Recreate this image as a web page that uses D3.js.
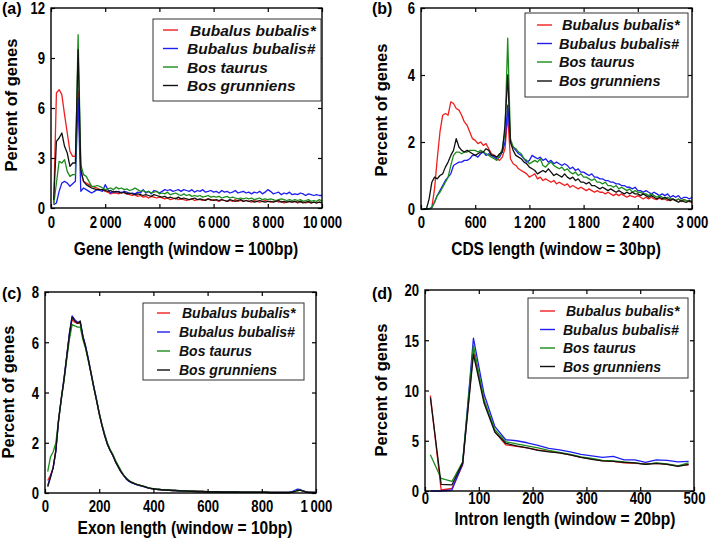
<!DOCTYPE html>
<html><head><meta charset="utf-8">
<script src="https://cdn.jsdelivr.net/npm/d3@7"></script>
<style>
body{margin:0;background:#fff;}
svg{display:block;}
</style></head><body>
<svg id="chart" width="709" height="544"></svg>
<script>
const seriesNames = ["Bubalus bubalis*", "Bubalus bubalis#", "Bos taurus", "Bos grunniens"];
const seriesColors = ["#f01e1e", "#1e1ef0", "#1b8c1b", "#111111"];

// ---------- (a) Gene length, window = 100bp ----------
const geneX = d3.range(100, 10001, 100);
const geneRed = [
 0.3,6.9,7.1,6.8,5.6,4.5,3.4,3.1,3.1,7.0,
 2.2,1.6,1.5,1.4,1.3,1.25,1.2,1.1,1.1,1.0,
 0.95,0.85,0.9,0.9,0.85,0.95,0.9,0.85,0.8,0.75,
 0.8,0.7,0.75,0.65,0.7,0.6,0.7,0.65,0.6,0.65,
 0.6,0.55,0.6,0.5,0.55,0.6,0.5,0.55,0.5,0.45,
 0.5,0.55,0.45,0.5,0.5,0.45,0.5,0.55,0.45,0.5,
 0.45,0.4,0.5,0.45,0.4,0.45,0.4,0.5,0.4,0.45,
 0.4,0.45,0.4,0.35,0.45,0.4,0.35,0.4,0.45,0.4,
 0.35,0.4,0.45,0.35,0.4,0.3,0.35,0.4,0.35,0.4,
 0.3,0.35,0.4,0.3,0.35,0.3,0.35,0.3,0.35,0.3];
const geneBlue = [
 0.2,0.3,1.0,1.5,1.6,1.5,1.3,1.45,1.6,6.6,
 1.0,1.2,1.1,1.0,0.9,1.0,1.1,1.05,1.0,1.4,
 1.1,0.9,1.0,0.95,1.0,0.9,1.0,0.95,0.85,0.9,
 0.85,0.95,0.9,1.1,0.9,1.0,0.85,1.05,1.0,0.9,
 1.0,1.1,1.05,1.1,1.0,1.05,1.1,1.0,1.1,1.05,
 1.0,1.1,0.95,1.05,1.0,1.1,0.95,1.0,1.05,0.95,
 1.0,0.9,1.05,0.95,1.0,0.9,0.95,1.05,0.9,0.95,
 1.0,0.9,0.95,0.85,0.95,0.9,1.0,0.85,0.95,1.1,
 1.0,0.85,0.9,0.95,0.8,0.9,0.85,0.95,0.8,0.85,
 0.8,0.9,0.85,0.75,0.85,0.8,0.75,0.8,0.75,0.75];
const geneGreen = [
 0.2,1.5,2.8,2.7,2.9,2.2,1.9,2.0,2.0,10.4,
 2.6,2.0,1.9,1.6,1.3,1.3,1.35,1.3,1.2,1.1,
 1.15,1.2,1.1,1.25,1.15,1.2,1.1,1.15,1.05,1.1,
 1.2,1.1,1.0,1.05,0.95,1.0,0.9,0.95,1.0,0.85,
 0.9,0.85,0.95,0.8,0.85,0.9,0.8,0.75,0.85,0.75,
 0.8,0.7,0.75,0.7,0.75,0.65,0.7,0.75,0.65,0.7,
 0.65,0.7,0.6,0.65,0.7,0.6,0.65,0.6,0.55,0.6,
 0.55,0.6,0.55,0.6,0.5,0.55,0.6,0.5,0.55,0.5,
 0.55,0.5,0.45,0.5,0.55,0.5,0.45,0.5,0.45,0.5,
 0.45,0.5,0.4,0.45,0.5,0.4,0.45,0.4,0.5,0.4];
const geneBlack = [
 0.5,4.0,4.2,4.5,3.7,3.3,2.5,2.7,2.7,9.5,
 2.3,1.6,1.4,1.3,1.2,1.15,1.1,1.1,1.1,1.05,
 1.0,1.05,0.95,1.0,0.95,0.9,0.95,0.85,0.9,0.85,
 0.8,0.85,0.8,0.75,0.8,0.75,0.7,0.8,0.75,0.7,
 0.65,0.7,0.6,0.65,0.6,0.55,0.65,0.55,0.6,0.55,
 0.5,0.55,0.6,0.5,0.55,0.5,0.45,0.55,0.5,0.45,
 0.5,0.45,0.5,0.45,0.4,0.5,0.45,0.4,0.45,0.5,
 0.4,0.45,0.4,0.45,0.35,0.4,0.45,0.4,0.35,0.4,
 0.4,0.35,0.4,0.45,0.35,0.4,0.35,0.4,0.35,0.4,
 0.35,0.4,0.3,0.35,0.4,0.3,0.35,0.3,0.35,0.3];
const geneXTicks = [0, 2000, 4000, 6000, 8000, 10000];
const geneYTicks = [0, 3, 6, 9, 12];

// ---------- (b) CDS length, window = 30bp ----------
const cdsX = d3.range(30, 3001, 30);
const cdsRed = [
 0,0,0,0.05,0.6,1.5,2.3,2.8,2.85,2.8,
 3.2,3.15,3.0,2.95,2.8,2.6,2.5,2.3,2.1,2.05,
 1.95,2.0,1.9,1.95,1.8,1.65,1.6,1.5,1.45,1.55,
 1.8,2.8,1.5,1.35,1.3,1.2,1.15,1.1,1.05,0.95,
 1.0,1.05,0.9,0.95,0.85,0.9,0.85,0.8,0.85,0.75,
 0.8,0.75,0.7,0.75,0.65,0.7,0.65,0.6,0.65,0.6,
 0.55,0.6,0.55,0.5,0.55,0.5,0.5,0.45,0.5,0.45,
 0.4,0.45,0.4,0.45,0.4,0.35,0.4,0.38,0.35,0.4,
 0.35,0.3,0.35,0.3,0.35,0.3,0.28,0.32,0.28,0.3,
 0.25,0.3,0.28,0.25,0.3,0.22,0.28,0.25,0.22,0.2];
const cdsBlue = [
 0,0,0,0.05,0.2,0.4,0.55,0.7,0.85,0.95,
 1.05,1.3,1.35,1.4,1.4,1.45,1.45,1.5,1.6,1.6,
 1.55,1.65,1.7,1.6,1.65,1.6,1.55,1.5,1.55,1.7,
 2.0,3.1,2.0,1.85,1.75,1.65,1.6,1.5,1.4,1.45,
 1.6,1.55,1.5,1.55,1.45,1.5,1.4,1.45,1.35,1.4,
 1.35,1.3,1.35,1.3,1.2,1.25,1.15,1.2,1.1,1.1,
 1.05,1.0,1.05,0.95,0.95,0.9,0.9,0.85,0.85,0.8,
 0.8,0.75,0.75,0.7,0.7,0.65,0.65,0.6,0.65,0.55,
 0.55,0.5,0.55,0.5,0.45,0.5,0.45,0.4,0.45,0.4,
 0.45,0.35,0.4,0.35,0.4,0.3,0.35,0.35,0.3,0.35];
const cdsGreen = [
 0,0,0,0.05,0.2,0.4,0.5,0.65,0.8,0.95,
 1.3,1.6,1.7,1.7,1.65,1.7,1.7,1.75,1.75,1.75,
 1.7,1.75,1.7,1.65,1.6,1.55,1.5,1.45,1.6,1.8,
 2.3,5.1,2.1,1.85,1.8,1.7,1.65,1.5,1.45,1.35,
 1.4,1.45,1.4,1.5,1.3,1.25,1.35,1.4,1.3,1.25,
 1.2,1.25,1.15,1.2,1.1,1.05,1.1,1.0,1.05,0.95,
 0.95,0.9,0.85,0.9,0.8,0.8,0.75,0.8,0.7,0.7,
 0.65,0.7,0.6,0.65,0.6,0.55,0.6,0.5,0.55,0.5,
 0.5,0.45,0.45,0.4,0.45,0.4,0.35,0.4,0.35,0.3,
 0.35,0.3,0.3,0.25,0.3,0.25,0.28,0.25,0.22,0.25];
const cdsBlack = [
 0,0,0.3,0.8,0.95,0.9,1.0,1.05,1.25,1.4,
 1.6,1.75,2.1,1.85,1.75,1.7,1.75,1.7,1.65,1.6,
 1.65,1.7,1.7,1.8,1.75,1.6,1.6,1.55,1.65,1.7,
 2.5,4.0,2.0,1.75,1.6,1.55,1.5,1.4,1.35,1.25,
 1.2,1.15,1.05,1.1,1.15,1.1,1.2,1.1,1.0,1.05,
 1.0,0.95,1.05,0.95,0.9,0.95,0.85,0.9,0.8,0.8,
 0.75,0.8,0.7,0.7,0.65,0.6,0.65,0.6,0.55,0.6,
 0.55,0.5,0.55,0.5,0.45,0.5,0.45,0.5,0.45,0.45,
 0.4,0.45,0.4,0.35,0.4,0.35,0.3,0.35,0.3,0.35,
 0.3,0.25,0.3,0.25,0.2,0.25,0.22,0.2,0.25,0.2];
const cdsXTicks = [0, 600, 1200, 1800, 2400, 3000];
const cdsYTicks = [0, 2, 4, 6];

// ---------- (c) Exon length, window = 10bp ----------
const exonX = d3.range(10, 1001, 10);
const exonRed = [
 0.5,0.7,1.0,1.7,2.9,3.75,4.5,5.4,6.3,6.9,
 6.8,6.75,6.75,6.2,5.8,5.3,4.75,4.2,3.7,3.15,
 2.7,2.3,1.95,1.7,1.5,1.25,1.05,0.85,0.7,0.57,
 0.48,0.42,0.37,0.33,0.3,0.27,0.24,0.2,0.18,0.17,
 0.15,0.14,0.13,0.12,0.12,0.11,0.1,0.1,0.09,0.09,
 0.08,0.08,0.07,0.07,0.07,0.06,0.06,0.06,0.06,0.05,
 0.05,0.05,0.05,0.05,0.04,0.04,0.04,0.04,0.04,0.04,
 0.04,0.03,0.03,0.03,0.03,0.03,0.03,0.03,0.03,0.03,
 0.03,0.03,0.02,0.02,0.02,0.02,0.02,0.02,0.02,0.02,
 0.03,0.05,0.1,0.12,0.08,0.05,0.03,0.02,0.02,0.02];
const exonBlue = [
 0.3,0.65,1.0,1.65,2.85,3.75,4.55,5.45,6.35,7.05,
 6.9,6.8,6.8,6.25,5.85,5.35,4.8,4.25,3.75,3.2,
 2.7,2.3,1.95,1.7,1.5,1.25,1.05,0.85,0.7,0.55,
 0.46,0.4,0.36,0.32,0.29,0.26,0.23,0.2,0.18,0.16,
 0.15,0.14,0.13,0.12,0.11,0.11,0.1,0.1,0.09,0.08,
 0.08,0.08,0.07,0.07,0.06,0.06,0.06,0.06,0.05,0.05,
 0.05,0.05,0.05,0.04,0.04,0.04,0.04,0.04,0.04,0.04,
 0.03,0.03,0.03,0.03,0.03,0.03,0.03,0.03,0.03,0.03,
 0.03,0.02,0.02,0.02,0.02,0.02,0.02,0.02,0.02,0.03,
 0.05,0.1,0.15,0.14,0.1,0.06,0.04,0.03,0.02,0.02];
const exonGreen = [
 0.85,1.43,1.63,2.0,2.9,3.7,4.45,5.3,6.1,6.7,
 6.65,6.6,6.6,6.1,5.75,5.25,4.75,4.2,3.7,3.2,
 2.75,2.35,2.0,1.75,1.55,1.3,1.1,0.9,0.72,0.6,
 0.5,0.43,0.38,0.34,0.31,0.28,0.25,0.21,0.19,0.17,
 0.16,0.15,0.13,0.12,0.12,0.11,0.11,0.1,0.1,0.09,
 0.09,0.08,0.08,0.07,0.07,0.07,0.06,0.06,0.06,0.05,
 0.05,0.05,0.05,0.05,0.04,0.04,0.04,0.04,0.04,0.04,
 0.04,0.03,0.03,0.03,0.03,0.03,0.03,0.03,0.03,0.03,
 0.03,0.03,0.02,0.02,0.02,0.02,0.02,0.02,0.02,0.02,
 0.03,0.06,0.1,0.11,0.08,0.05,0.03,0.02,0.02,0.02];
const exonBlack = [
 0.25,0.6,1.0,1.7,2.9,3.75,4.5,5.4,6.3,7.0,
 6.85,6.75,6.85,6.2,5.8,5.3,4.75,4.2,3.7,3.15,
 2.7,2.3,1.95,1.7,1.5,1.25,1.05,0.85,0.7,0.58,
 0.48,0.42,0.37,0.33,0.3,0.27,0.24,0.2,0.18,0.17,
 0.15,0.14,0.13,0.12,0.12,0.11,0.1,0.1,0.09,0.09,
 0.08,0.08,0.07,0.07,0.07,0.06,0.06,0.06,0.05,0.05,
 0.05,0.05,0.05,0.05,0.04,0.04,0.04,0.04,0.04,0.04,
 0.04,0.03,0.03,0.03,0.03,0.03,0.03,0.03,0.03,0.03,
 0.03,0.03,0.02,0.02,0.02,0.02,0.02,0.02,0.02,0.02,
 0.03,0.05,0.09,0.11,0.08,0.05,0.03,0.02,0.02,0.02];
const exonXTicks = [0, 200, 400, 600, 800, 1000];
const exonYTicks = [0, 2, 4, 6, 8];

// ---------- (d) Intron length, window = 20bp ----------
const intronX = d3.range(10, 491, 20);
const intronRed   = [9.5,0.1,0.25,2.6,14.0,9.0,5.9,4.6,4.45,4.3,4.1,3.95,3.8,3.6,3.35,3.2,3.0,2.95,2.8,2.75,2.7,2.75,2.65,2.5,2.6];
const intronBlue  = [0,0,0.1,2.7,15.2,9.6,6.4,5.1,5.0,4.8,4.55,4.25,4.1,3.9,3.65,3.5,3.35,3.45,3.1,3.1,2.85,3.1,3.05,2.9,2.95];
const intronGreen = [3.6,1.25,0.95,2.9,14.5,9.0,6.1,4.9,4.7,4.5,4.3,4.05,3.85,3.65,3.4,3.25,3.05,3.0,2.9,2.8,2.65,2.8,2.7,2.5,2.8];
const intronBlack = [9.3,0.65,0.6,2.8,13.6,8.7,5.85,4.75,4.5,4.3,4.05,3.9,3.8,3.6,3.35,3.15,3.0,2.95,2.85,2.8,2.65,2.75,2.65,2.45,2.65];
const intronXTicks = [0, 100, 200, 300, 400, 500];
const intronYTicks = [0, 5, 10, 15, 20];

// ---------- panel definitions ----------
const panels = [
 { tag:"(a)", xs:geneX, ys:[geneRed,geneBlue,geneGreen,geneBlack], xDomain:[0,10000], yDomain:[0,12],
   xTicks:geneXTicks, yTicks:geneYTicks, xTitle:"Gene length (window = 100bp)",
   box:{l:51,r:322,t:8,b:208}, tagPos:[2,14], yTitle:[17,105], xTitle_:[186,255], xTickDy:20,
   leg:{l:153,r:321,t:19,b:101,lx:[163,178],tx:187,rows:[30,48.5,67,85.5],fs:15.5} },
 { tag:"(b)", xs:cdsX, ys:[cdsRed,cdsBlue,cdsGreen,cdsBlack], xDomain:[0,3000], yDomain:[0,6],
   xTicks:cdsXTicks, yTicks:cdsYTicks, xTitle:"CDS length (window = 30bp)",
   box:{l:421,r:692,t:8,b:209}, tagPos:[372,14], yTitle:[387,110], xTitle_:[556,255], xTickDy:19,
   leg:{l:525,r:688,t:13,b:97,lx:[537,552],tx:559,rows:[25,43.5,62,81],fs:14.5} },
 { tag:"(c)", xs:exonX, ys:[exonRed,exonBlue,exonGreen,exonBlack], xDomain:[0,1000], yDomain:[0,8],
   xTicks:exonXTicks, yTicks:exonYTicks, xTitle:"Exon length (window = 10bp)",
   box:{l:45,r:316,t:292,b:493}, tagPos:[2,299], yTitle:[14,392], xTitle_:[185,534], xTickDy:19,
   leg:{l:143,r:304,t:303,b:380,lx:[157,170],tx:179,rows:[313,332,351,370],fs:14} },
 { tag:"(d)", xs:intronX, ys:[intronRed,intronBlue,intronGreen,intronBlack], xDomain:[0,500], yDomain:[0,20],
   xTicks:intronXTicks, yTicks:intronYTicks, xTitle:"Intron length (window = 20bp)",
   box:{l:425,r:694,t:290,b:491}, tagPos:[372,299], yTitle:[387,390], xTitle_:[565,525], xTickDy:13,
   leg:{l:528,r:688,t:298,b:378,lx:[540,555],tx:563,rows:[311,329.5,348,366.5],fs:14} }
];

const locale = d3.formatLocale({decimal:".", thousands:"\u2009", grouping:[3], currency:["",""]});
const fmt = locale.format(",d");
const sans = "'Liberation Sans',Arial,sans-serif";
const squeeze = 0.82;   // narrow (condensed) look of the original lettering
const svg = d3.select("#chart");

panels.forEach(p => {
  const g = svg.append("g");
  const x = d3.scaleLinear().domain(p.xDomain).range([p.box.l, p.box.r]);
  const y = d3.scaleLinear().domain(p.yDomain).range([p.box.b, p.box.t]);
  const tl = 4;

  // lines
  const line = d3.line().x((d,i) => x(p.xs[i])).y(d => y(d));
  p.ys.forEach((vals, k) => {
    g.append("path").datum(vals).attr("d", line)
      .attr("fill","none").attr("stroke", seriesColors[k]).attr("stroke-width",1.3)
      .attr("stroke-linejoin","round");
  });

  // axes (inward ticks on all four sides)
  const axB = g.append("g").attr("transform",`translate(0,${p.box.b})`)
    .call(d3.axisBottom(x).tickValues(p.xTicks).tickSize(-tl).tickPadding(0).tickFormat(fmt));
  const axT = g.append("g").attr("transform",`translate(0,${p.box.t})`)
    .call(d3.axisTop(x).tickValues(p.xTicks).tickSize(-tl).tickFormat(""));
  const axL = g.append("g").attr("transform",`translate(${p.box.l},0)`)
    .call(d3.axisLeft(y).tickValues(p.yTicks).tickSize(-tl).tickFormat(d3.format("d")));
  const axR = g.append("g").attr("transform",`translate(${p.box.r},0)`)
    .call(d3.axisRight(y).tickValues(p.yTicks).tickSize(-tl).tickFormat(""));
  [axB,axT,axL,axR].forEach(a => {
    a.select(".domain").remove();
    a.selectAll(".tick line").attr("stroke","#000").attr("stroke-width",1.2);
  });
  axB.selectAll(".tick text").attr("x",0).attr("y", p.xTickDy).attr("dy", 0)
     .attr("transform",`scale(${squeeze},1)`);
  axL.selectAll(".tick text").attr("x", -6/squeeze).attr("dy","0.36em")
     .attr("transform",`scale(${squeeze},1)`);
  [axB, axL].forEach(a => a.selectAll(".tick text")
     .attr("font-family", sans).attr("font-weight","bold").attr("font-size",16).attr("fill","#000"));

  g.append("rect").attr("x",p.box.l).attr("y",p.box.t)
    .attr("width",p.box.r-p.box.l).attr("height",p.box.b-p.box.t)
    .attr("fill","none").attr("stroke","#000").attr("stroke-width",1.4);

  // legend
  const L = p.leg;
  const lg = g.append("g");
  lg.append("rect").attr("x",L.l).attr("y",L.t).attr("width",L.r-L.l).attr("height",L.b-L.t)
    .attr("fill","#fff").attr("stroke","#333").attr("stroke-width",1);
  seriesNames.forEach((nm,k) => {
    lg.append("line").attr("x1",L.lx[0]).attr("x2",L.lx[1]).attr("y1",L.rows[k]).attr("y2",L.rows[k])
      .attr("stroke",seriesColors[k]).attr("stroke-width",1.4);
    lg.append("text").attr("x", L.tx + (k===0?3:0)).attr("y", L.rows[k]).attr("dy","0.36em")
      .attr("font-family",sans).attr("font-weight","bold")
      .attr("font-style","italic").attr("font-size",L.fs).attr("fill","#111").text(nm);
  });

  // titles
  g.append("text").attr("x",p.tagPos[0]).attr("y",p.tagPos[1])
    .attr("font-family",sans).attr("font-weight","bold").attr("font-size",16)
    .text(p.tag);
  g.append("text").attr("transform",`translate(${p.yTitle[0]},${p.yTitle[1]}) rotate(-90)`)
    .attr("text-anchor","middle").attr("font-family",sans)
    .attr("font-weight","bold").attr("font-size",16.5).text("Percent of genes");
  g.append("text").attr("transform",`translate(${p.xTitle_[0]},${p.xTitle_[1]}) scale(${squeeze},1)`)
    .attr("text-anchor","middle")
    .attr("font-family", sans).attr("font-weight","bold").attr("font-size",19)
    .text(p.xTitle);
});
</script>
</body></html>
